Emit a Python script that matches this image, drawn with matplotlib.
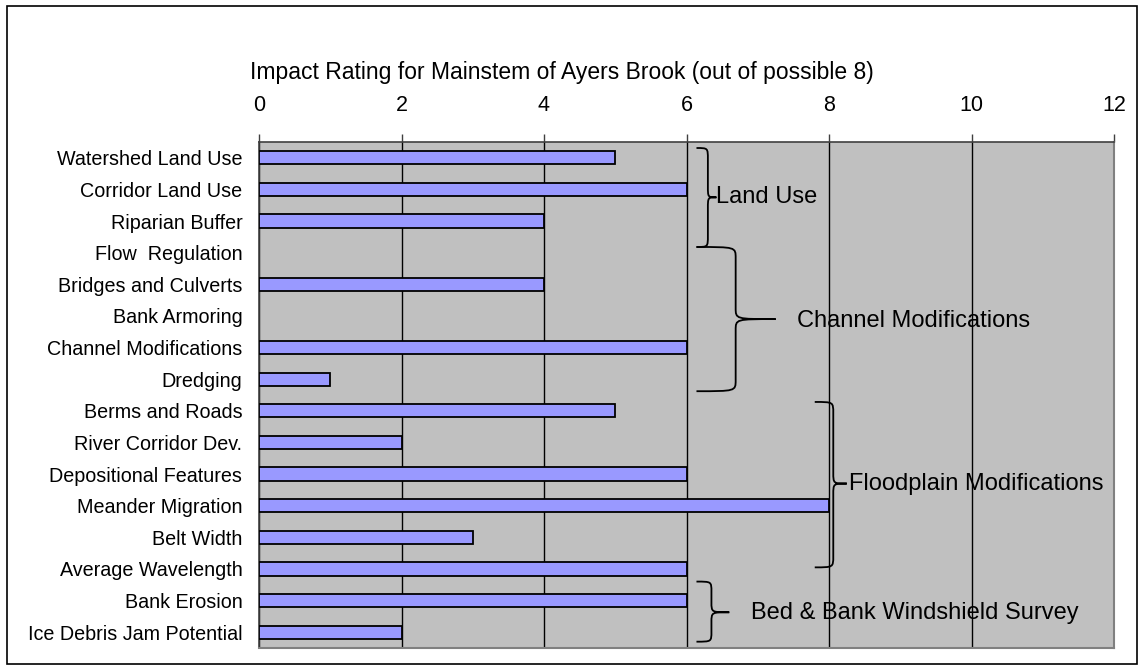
import matplotlib
matplotlib.use("Agg")
import matplotlib.pyplot as plt
from matplotlib.path import Path
from matplotlib.patches import PathPatch, Rectangle

plt.rcParams['font.family'] = ['Liberation Sans', 'DejaVu Sans']

categories = ["Watershed Land Use", "Corridor Land Use", "Riparian Buffer", "Flow  Regulation",
              "Bridges and Culverts", "Bank Armoring", "Channel Modifications", "Dredging",
              "Berms and Roads", "River Corridor Dev.", "Depositional Features", "Meander Migration",
              "Belt Width", "Average Wavelength", "Bank Erosion", "Ice Debris Jam Potential"]
values = [5, 6, 4, 0, 4, 0, 6, 1, 5, 2, 6, 8, 3, 6, 6, 2]
xticks = [0, 2, 4, 6, 8, 10, 12]
title = "Impact Rating for Mainstem of Ayers Brook (out of possible 8)"
groups = ["Land Use", "Channel Modifications", "Floodplain Modifications", "Bed & Bank Windshield Survey"]

fig = plt.figure(figsize=(11.39, 6.70), dpi=100)
ax = fig.add_axes([259/1139, 1-648/670, (1114-259)/1139, (648-142)/670])
ax.set_facecolor('#C0C0C0')

y = list(range(len(categories)))
bars = ax.barh(y, values, height=0.42, color='#9999FF', edgecolor='black', linewidth=1.3, zorder=3)
for b, v in zip(bars, values):
    if v == 0:
        b.set_linewidth(0)
ax.set_ylim(len(categories)-0.5, -0.5)
ax.set_xlim(0, 12)
ax.set_xticks(xticks)
ax.set_xticklabels([str(t) for t in xticks], fontsize=15.5)
ax.xaxis.tick_top()
ax.tick_params(axis='x', direction='out', length=6, width=1, color='#404040', pad=13)
ax.set_yticks(y)
ax.set_yticklabels(categories, fontsize=14.2)
ax.tick_params(axis='y', length=0, pad=12)
ax.grid(axis='x', color='black', linewidth=1, zorder=1)
ax.set_axisbelow(True)
for s in ['top', 'left']:
    ax.spines[s].set_color('#404040')
    ax.spines[s].set_linewidth(1.2)
for s in ['bottom', 'right']:
    ax.spines[s].set_color('#808080')
    ax.spines[s].set_linewidth(1.5)


def brace(x0, ytop, ybot, xstem, xtip, ytip):
    r = min(0.35, (ybot - ytop) / 6)
    verts = [
        (x0, ytop),
        (xstem, ytop), (xstem, ytop), (xstem, ytop + r),
        (xstem, ytip - r),
        (xstem, ytip), (xstem, ytip), (xtip, ytip),
        (xstem, ytip), (xstem, ytip), (xstem, ytip + r),
        (xstem, ybot - r),
        (xstem, ybot), (xstem, ybot), (x0, ybot),
    ]
    codes = [Path.MOVETO,
             Path.CURVE4, Path.CURVE4, Path.CURVE4,
             Path.LINETO,
             Path.CURVE4, Path.CURVE4, Path.CURVE4,
             Path.CURVE4, Path.CURVE4, Path.CURVE4,
             Path.LINETO,
             Path.CURVE4, Path.CURVE4, Path.CURVE4]
    ax.add_patch(PathPatch(Path(verts, codes), facecolor='none', edgecolor='black',
                           linewidth=1.3, zorder=4, clip_on=False))


brace(6.14, -0.31, 2.82, 6.3, 6.42, 1.25)
ax.text(6.42, 1.25, groups[0], fontsize=17, va='center', ha='left', zorder=5)
brace(6.14, 2.82, 7.38, 6.69, 7.25, 5.1)
ax.text(7.55, 5.15, groups[1], fontsize=17, va='center', ha='left', zorder=5)
brace(7.8, 7.72, 12.95, 8.06, 8.25, 10.3)
ax.text(8.28, 10.33, groups[2], fontsize=17, va='center', ha='left', zorder=5)
brace(6.14, 13.4, 15.3, 6.35, 6.6, 14.37)
ax.text(6.9, 14.4, groups[3], fontsize=17, va='center', ha='left', zorder=5)

fig.text(562/1139, 1-73/670, title, fontsize=16.5, ha='center', va='center')
fig.patches.append(Rectangle((7/1139, 6/670), 1130/1139, 658/670, transform=fig.transFigure,
                             facecolor='none', edgecolor='black', linewidth=1.2))

fig.savefig("out.png", dpi=100)
